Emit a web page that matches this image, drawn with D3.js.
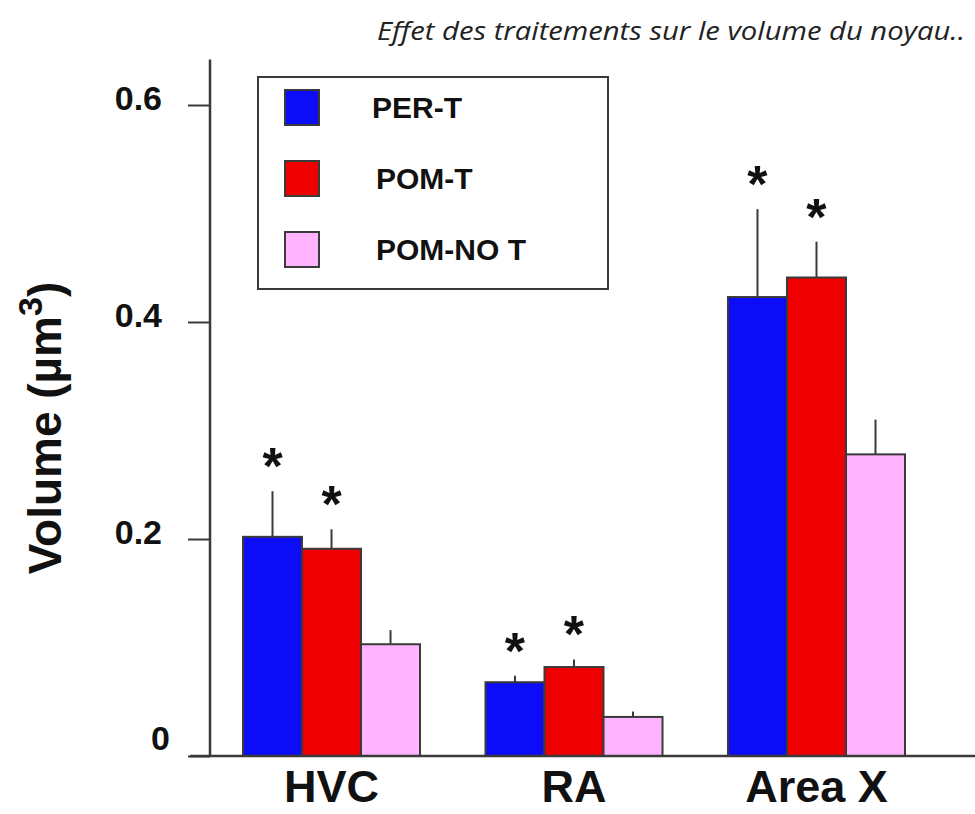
<!DOCTYPE html>
<html>
<head>
<meta charset="utf-8">
<script src="https://cdn.jsdelivr.net/npm/d3@7"></script>
<style>
  body { margin: 0; background: #fff; }
  svg { display: block; }
</style>
</head>
<body>
<svg id="chart" width="975" height="814"></svg>
<script>
// data
var categories = [ "HVC", "RA", "Area X" ];
var series = [ "PER-T", "POM-T", "POM-NO T" ];
var perT = [ 0.202, 0.068, 0.423 ];
var pomT = [ 0.191, 0.082, 0.441 ];
var pomNoT = [ 0.103, 0.036, 0.278 ];
var perTErr = [ 0.042, 0.006, 0.081 ];
var pomTErr = [ 0.018, 0.007, 0.033 ];
var pomNoTErr = [ 0.013, 0.005, 0.032 ];
var perTSig = [ true, true, true ];
var pomTSig = [ true, true, true ];
var pomNoTSig = [ false, false, false ];
var yTicks = [ 0, 0.2, 0.4, 0.6 ];
var colors = [ "#0c0cf6", "#ee0000", "#ffb4ff" ];

var values = [ perT, pomT, pomNoT ];
var errors = [ perTErr, pomTErr, pomNoTErr ];
var sig = [ perTSig, pomTSig, pomNoTSig ];

var rows = [];
categories.forEach( function( c, i ) {
    series.forEach( function( s, j ) {
        rows.push( { cat: c, ser: s, idx: j, v: values[ j ][ i ], e: errors[ j ][ i ], sig: sig[ j ][ i ] } );
    } );
} );

var svg = d3.select( "#chart" );
var axisX = 210;
var ink = "#3a3a3a";
var boldFont = "'Liberation Sans', Arial, sans-serif";

var y = d3.scaleLinear().domain( [ 0, 0.6 ] ).range( [ 756, 105 ] );
var x0 = d3.scaleBand().domain( categories ).range( [ 243, 905 ] ).paddingInner( 0.27 ).paddingOuter( 0 );
var x1 = d3.scaleBand().domain( series ).range( [ 0, x0.bandwidth() ] ).padding( 0 );

// title
svg.append( "text" )
    .attr( "x", 965 )
    .attr( "y", 40 )
    .attr( "text-anchor", "end" )
    .attr( "textLength", 588 )
    .attr( "lengthAdjust", "spacingAndGlyphs" )
    .style( "font-family", "'Open Sans', sans-serif" )
    .style( "font-style", "italic" )
    .style( "font-size", "26px" )
    .style( "fill", "#222" )
    .text( "Effet des traitements sur le volume du noyau.." );

// y axis
var yAxis = d3.axisLeft( y )
    .tickValues( yTicks )
    .tickSize( 22 )
    .tickPadding( 26 )
    .tickFormat( function( d ) { return d === 0 ? "0" : d3.format( ".1f" )( d ); } );

var gy = svg.append( "g" )
    .attr( "transform", "translate(" + axisX + ",0)" )
    .call( yAxis );
gy.select( ".domain" ).remove();
gy.selectAll( ".tick line" ).attr( "stroke", ink ).attr( "stroke-width", 2 );
gy.selectAll( ".tick text" )
    .attr( "dy", "0.12em" )
    .style( "font-family", boldFont )
    .style( "font-weight", "bold" )
    .style( "font-size", "34px" )
    .style( "fill", "#111" );
gy.selectAll( ".tick" ).filter( function( d ) { return d === 0; } ).select( "text" )
    .attr( "x", -40 ).attr( "dy", "-0.2em" );

svg.append( "line" )
    .attr( "x1", axisX ).attr( "x2", axisX )
    .attr( "y1", y( 0 ) ).attr( "y2", y( 0.642 ) )
    .attr( "stroke", ink ).attr( "stroke-width", 2.5 );

// y title
svg.append( "text" )
    .attr( "transform", "translate(61,428) rotate(-90)" )
    .attr( "text-anchor", "middle" )
    .style( "font-family", boldFont )
    .style( "font-weight", "bold" )
    .style( "font-size", "46px" )
    .style( "fill", "#111" )
    .call( function( t ) {
        t.append( "tspan" ).text( "Volume (\u00b5m" );
        t.append( "tspan" ).attr( "baseline-shift", "super" ).style( "font-size", "34px" ).text( "3" );
        t.append( "tspan" ).text( ")" );
    } );

// bars
var groups = svg.append( "g" ).selectAll( "g" )
    .data( rows )
    .join( "g" )
    .attr( "transform", function( d ) { return "translate(" + ( x0( d.cat ) + x1( d.ser ) ) + ",0)"; } );

groups.append( "line" )
    .attr( "x1", x1.bandwidth() / 2 ).attr( "x2", x1.bandwidth() / 2 )
    .attr( "y1", function( d ) { return y( d.v ); } )
    .attr( "y2", function( d ) { return y( d.v + d.e ); } )
    .attr( "stroke", ink ).attr( "stroke-width", 2 );

groups.append( "rect" )
    .attr( "x", 0 )
    .attr( "y", function( d ) { return y( d.v ); } )
    .attr( "width", x1.bandwidth() )
    .attr( "height", function( d ) { return y( 0 ) - y( d.v ); } )
    .attr( "fill", function( d ) { return colors[ d.idx ]; } )
    .attr( "stroke", ink ).attr( "stroke-width", 2 );

groups.filter( function( d ) { return d.sig; } )
    .append( "text" )
    .attr( "x", x1.bandwidth() / 2 )
    .attr( "y", function( d ) { return y( d.v + d.e ) - 36 + 29; } )
    .attr( "text-anchor", "middle" )
    .style( "font-family", boldFont )
    .style( "font-weight", "bold" )
    .style( "font-size", "52px" )
    .style( "fill", "#111" )
    .text( "*" );

// baseline
svg.append( "line" )
    .attr( "x1", 190 ).attr( "x2", 975 )
    .attr( "y1", y( 0 ) ).attr( "y2", y( 0 ) )
    .attr( "stroke", ink ).attr( "stroke-width", 2.5 );

// category labels
svg.append( "g" ).selectAll( "text" )
    .data( categories )
    .join( "text" )
    .attr( "x", function( d ) { return x0( d ) + x0.bandwidth() / 2; } )
    .attr( "y", 802 )
    .attr( "text-anchor", "middle" )
    .style( "font-family", boldFont )
    .style( "font-weight", "bold" )
    .style( "font-size", "45px" )
    .style( "fill", "#111" )
    .text( function( d ) { return d; } );

// legend
var legend = svg.append( "g" );
legend.append( "rect" )
    .attr( "x", 258 ).attr( "y", 77 )
    .attr( "width", 350 ).attr( "height", 212 )
    .attr( "fill", "#fff" )
    .attr( "stroke", ink ).attr( "stroke-width", 2 );

var items = legend.selectAll( "g" )
    .data( series )
    .join( "g" )
    .attr( "transform", function( d, i ) { return "translate(285," + ( 90 + i * 71 ) + ")"; } );

items.append( "rect" )
    .attr( "width", 34 ).attr( "height", 35 )
    .attr( "fill", function( d, i ) { return colors[ i ]; } )
    .attr( "stroke", ink ).attr( "stroke-width", 2 );

items.append( "text" )
    .attr( "x", function( d, i ) { return i === 0 ? 87 : 91; } )
    .attr( "y", 17.5 )
    .attr( "dy", "0.36em" )
    .style( "font-family", boldFont )
    .style( "font-weight", "bold" )
    .style( "font-size", "30px" )
    .style( "fill", "#111" )
    .text( function( d ) { return d; } );
</script>
</body>
</html>
